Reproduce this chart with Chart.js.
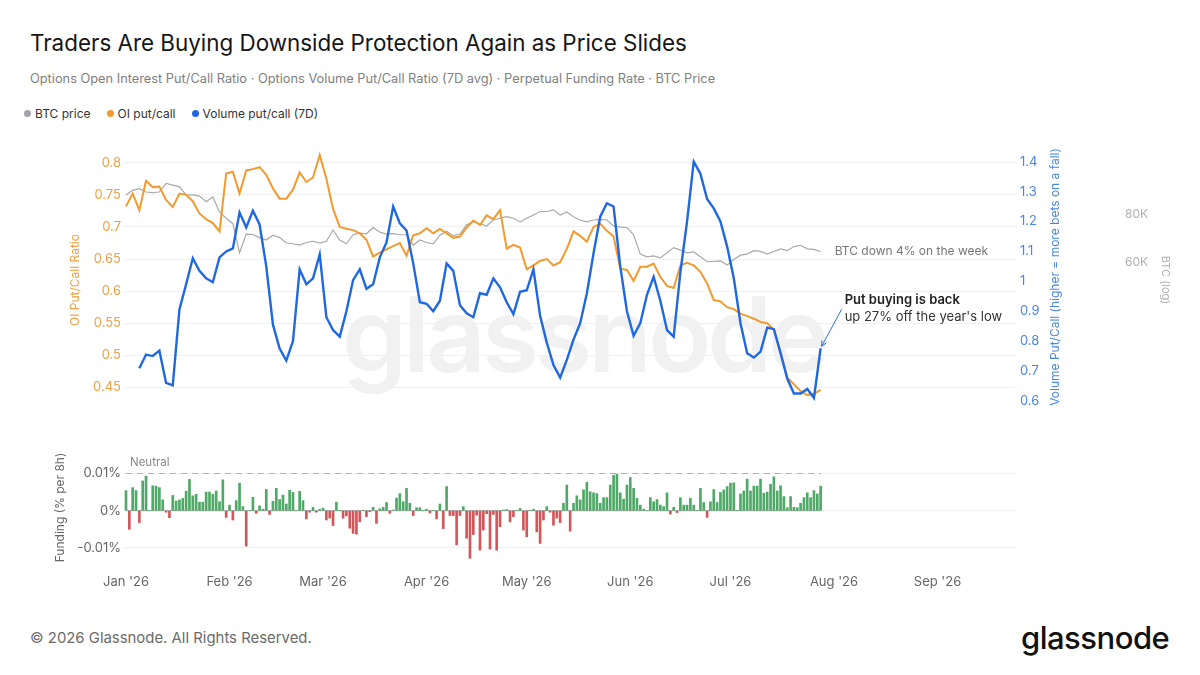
<!DOCTYPE html>
<html lang="en">
<head>
<meta charset="UTF-8">
<meta name="viewport" content="width=device-width, initial-scale=1.0">
<title>Traders Are Buying Downside Protection Again as Price Slides</title>
<script src="https://cdn.jsdelivr.net/npm/chart.js"></script>
<style>
  html, body { margin: 0; padding: 0; background: #fff; }
  body { position: relative; width: 1200px; height: 675px; overflow: hidden; font-family: Inter, "Noto Sans", sans-serif; }
  .abs { position: absolute; white-space: nowrap; }
  #title { left: 30px; top: 29px; font-size: 22.4px; color: #161616; }
  #subtitle { left: 30px; top: 71px; font-size: 12.8px; color: #808080; }
  #legend { left: 24px; top: 106px; font-size: 12px; color: #333; display: flex; gap: 16px; }
  #legend .dot { display: inline-block; width: 7px; height: 7px; border-radius: 50%; margin-right: 4px; vertical-align: 1px; }
  #watermark { left: 342px; top: 282px; font-size: 104px; line-height: 104px; font-weight: 600; color: rgba(0,0,0,0.055); letter-spacing: -4px; }
  #mainWrap { left: 0; top: 140px; width: 1200px; height: 280px; }
  #fundWrap { left: 0; top: 440px; width: 1200px; height: 160px; }
  #footer { left: 30px; top: 629px; font-size: 14.9px; color: #6b6b6b; }
  #logo { left: 1021px; top: 619px; font-size: 31px; font-weight: 500; color: #111; letter-spacing: -0.5px; }
</style>
</head>
<body>
  <div id="watermark" class="abs">glassnode</div>
  <div id="title" class="abs">Traders Are Buying Downside Protection Again as Price Slides</div>
  <div id="subtitle" class="abs">Options Open Interest Put/Call Ratio · Options Volume Put/Call Ratio (7D avg) · Perpetual Funding Rate · BTC Price</div>
  <div id="legend" class="abs">
    <div><span class="dot" style="background:#a3a3ab"></span>BTC price</div>
    <div><span class="dot" style="background:#f29a2e"></span>OI put/call</div>
    <div><span class="dot" style="background:#2068e0"></span>Volume put/call (7D)</div>
  </div>
  <div id="mainWrap" class="abs"><canvas id="mainChart"></canvas></div>
  <div id="fundWrap" class="abs"><canvas id="fundChart"></canvas></div>
  <div id="footer" class="abs">© 2026 Glassnode. All Rights Reserved.</div>
  <div id="logo" class="abs">glassnode</div>

<script>
// x positions are days since 1 Jan 2026
const monthTicks = [0, 31, 59, 90, 120, 151, 181, 212, 243];
const monthLabels = ["Jan '26", "Feb '26", "Mar '26", "Apr '26", "May '26", "Jun '26", "Jul '26", "Aug '26", "Sep '26"];

// line series sampled every second day, 1 Jan .. 28 Jul
const lineDays = Array.from({ length: 105 }, (_, i) => i * 2);

const oiPutCall = [
  0.732, 0.752, 0.726, 0.772, 0.762, 0.763, 0.742, 0.731, 0.752, 0.750,
  0.740, 0.721, 0.712, 0.706, 0.693, 0.783, 0.786, 0.752, 0.788, 0.790,
  0.793, 0.781, 0.760, 0.744, 0.744, 0.758, 0.785, 0.770, 0.777, 0.812,
  0.775, 0.728, 0.700, 0.697, 0.695, 0.690, 0.680, 0.654, 0.660, 0.665,
  0.670, 0.675, 0.655, 0.687, 0.690, 0.698, 0.690, 0.697, 0.690, 0.683,
  0.685, 0.699, 0.710, 0.703, 0.718, 0.712, 0.726, 0.666, 0.672, 0.668,
  0.634, 0.640, 0.647, 0.650, 0.640, 0.645, 0.666, 0.693, 0.686, 0.677,
  0.700, 0.705, 0.694, 0.685, 0.635, 0.633, 0.616, 0.638, 0.638, 0.643,
  0.622, 0.608, 0.605, 0.640, 0.644, 0.640, 0.630, 0.612, 0.586, 0.584,
  0.575, 0.572, 0.565, 0.561, 0.557, 0.552, 0.550, 0.540, 0.505, 0.465,
  0.455, 0.444, 0.438, 0.440, 0.446
];

const volPutCall7d = [
  null, null, 0.709, 0.755, 0.750, 0.768, 0.660, 0.652, 0.906, 0.990,
  1.077, 1.035, 1.010, 0.997, 1.080, 1.100, 1.110, 1.230, 1.180, 1.236,
  1.190, 1.050, 0.855, 0.775, 0.735, 0.800, 1.040, 0.990, 1.010, 1.090,
  0.880, 0.837, 0.815, 0.900, 1.004, 1.040, 0.975, 0.990, 1.080, 1.130,
  1.250, 1.194, 1.170, 1.060, 0.930, 0.925, 0.900, 0.935, 1.060, 1.035,
  0.920, 0.893, 0.880, 0.960, 0.955, 1.010, 0.980, 0.930, 0.890, 0.965,
  0.970, 1.040, 0.885, 0.795, 0.720, 0.678, 0.737, 0.805, 0.860, 0.960,
  1.094, 1.216, 1.261, 1.250, 1.050, 0.900, 0.818, 0.860, 0.955, 1.015,
  0.935, 0.837, 0.815, 1.030, 1.200, 1.400, 1.360, 1.275, 1.244, 1.200,
  1.116, 1.010, 0.860, 0.759, 0.745, 0.765, 0.845, 0.840, 0.760, 0.675,
  0.625, 0.625, 0.640, 0.610, 0.776
];

// BTC price in thousands of USD
const btcPriceK = [
  89.6, 92.1, 93.0, 91.2, 90.8, 91.2, 96.0, 95.0, 94.0, 89.6,
  89.6, 89.0, 86.1, 88.5, 81.0, 78.0, 75.5, 63.5, 71.0, 70.8,
  69.5, 68.5, 70.5, 69.5, 67.3, 67.0, 66.5, 67.5, 68.0, 67.3,
  68.0, 72.7, 68.5, 67.0, 70.7, 71.4, 71.1, 73.8, 71.8, 71.0,
  71.2, 70.7, 70.7, 66.4, 68.5, 67.5, 67.0, 70.5, 72.2, 70.3,
  71.0, 75.0, 76.3, 75.5, 74.5, 77.2, 78.0, 78.7, 78.0, 76.3,
  78.0, 79.5, 81.2, 81.2, 82.0, 79.5, 81.0, 78.7, 77.2, 76.3,
  77.2, 77.5, 77.2, 74.5, 74.0, 73.8, 70.7, 63.0, 62.0, 62.3,
  61.6, 63.5, 65.5, 64.5, 63.5, 63.8, 62.0, 60.2, 60.3, 60.5,
  59.0, 61.0, 62.6, 63.0, 64.3, 64.0, 63.0, 64.0, 65.0, 64.3,
  65.9, 66.4, 65.0, 64.8, 63.9
];

// daily perpetual funding rate, % per 8h
const fundingDays = Array.from({ length: 209 }, (_, i) => i);
const fundingRate = [
  0.0054, -0.0050, 0.0062, 0.0054, -0.0032, 0.0080, 0.0093, 0.0000, 0.0067, 0.0066,
  0.0062, 0.0029, -0.0004, -0.0019, 0.0041, 0.0026, 0.0029, 0.0033, 0.0052, 0.0084,
  0.0040, 0.0044, 0.0023, 0.0023, 0.0050, 0.0050, 0.0044, 0.0053, 0.0024, 0.0083,
  -0.0018, 0.0015, -0.0025, 0.0027, 0.0074, 0.0011, -0.0095, 0.0000, 0.0036, -0.0007,
  0.0013, 0.0004, 0.0057, -0.0010, 0.0025, 0.0060, 0.0030, 0.0042, 0.0018, 0.0055,
  0.0049, 0.0000, 0.0052, 0.0027, -0.0022, -0.0004, 0.0009, -0.0004, 0.0004, 0.0007,
  -0.0025, -0.0020, -0.0040, 0.0023, 0.0000, -0.0020, -0.0014, -0.0047, -0.0061, -0.0063,
  -0.0030, 0.0000, -0.0016, -0.0003, 0.0009, -0.0034, 0.0005, 0.0009, 0.0022, -0.0007,
  0.0002, 0.0034, 0.0046, 0.0024, 0.0060, 0.0020, -0.0013, 0.0008, 0.0008, 0.0000,
  0.0004, -0.0006, 0.0000, -0.0022, 0.0018, -0.0048, 0.0065, -0.0013, -0.0013, -0.0092,
  -0.0013, 0.0011, -0.0074, -0.0128, -0.0064, -0.0012, -0.0106, -0.0052, -0.0008, -0.0103,
  -0.0010, -0.0106, -0.0043, 0.0002, 0.0003, -0.0030, -0.0016, 0.0000, 0.0006, -0.0052,
  -0.0070, 0.0000, 0.0004, -0.0057, -0.0088, -0.0025, 0.0011, -0.0004, -0.0039, -0.0020,
  -0.0032, 0.0020, 0.0069, -0.0055, 0.0020, 0.0040, 0.0029, 0.0056, 0.0076, 0.0051,
  0.0048, 0.0046, 0.0020, 0.0035, 0.0035, 0.0069, 0.0095, 0.0098, 0.0048, 0.0031,
  0.0069, 0.0089, 0.0060, 0.0033, 0.0015, 0.0004, 0.0000, 0.0035, 0.0024, 0.0030,
  0.0015, 0.0011, 0.0048, -0.0009, 0.0009, -0.0005, 0.0035, 0.0015, 0.0015, 0.0033,
  0.0015, 0.0000, 0.0060, 0.0022, -0.0018, 0.0024, 0.0057, 0.0022, 0.0049, 0.0056,
  0.0065, 0.0074, 0.0075, 0.0000, 0.0045, 0.0053, 0.0085, 0.0053, 0.0066, 0.0066,
  0.0085, 0.0047, 0.0050, 0.0071, 0.0091, 0.0053, 0.0067, 0.0038, 0.0008, 0.0038,
  0.0009, 0.0008, 0.0020, 0.0035, 0.0048, 0.0035, 0.0054, 0.0045, 0.0066
];
const neutralFunding = 0.01;

const oiTicks = [0.45, 0.5, 0.55, 0.6, 0.65, 0.7, 0.75, 0.8];
const volTicks = [0.6, 0.7, 0.8, 0.9, 1, 1.1, 1.2, 1.3, 1.4];
const btcTicksK = [60, 80];
const fundingTicks = [-0.01, 0, 0.01];

// plot area runs from x=124 to x=1017 in both charts
const X_MIN = -0.6, X_MAX = 266.8;
const ORANGE = '#f29a2e', BLUE = '#2068e0', GREY = '#a9a9a9';

Chart.defaults.font.family = 'Inter, "Noto Sans", sans-serif';
Chart.defaults.animation = false;

const toPoints = (xs, ys) => xs.map((x, i) => ({ x: x, y: ys[i] }));

// fixed axis width, and no extra room reserved for edge labels
const fixWidth = w => s => { s.width = w; s.paddingTop = 0; s.paddingBottom = 0; };

// volume axis title reads bottom-to-top like the left one
const volAxisTitle = {
  id: 'volAxisTitle',
  afterDraw(chart) {
    const { ctx, chartArea } = chart;
    ctx.save();
    ctx.translate(chartArea.right + 38, (chartArea.top + chartArea.bottom) / 2 - 3);
    ctx.rotate(-Math.PI / 2);
    ctx.font = '12px Inter, "Noto Sans", sans-serif';
    ctx.fillStyle = '#4a86e6';
    ctx.textAlign = 'center';
    ctx.textBaseline = 'middle';
    ctx.fillText('Volume Put/Call (higher = more bets on a fall)', 0, 0);
    ctx.restore();
  }
};

const notes = {
  id: 'notes',
  afterDatasetsDraw(chart) {
    const { ctx, scales } = chart;
    const last = lineDays.length - 1;
    const px = scales.x.getPixelForValue(lineDays[last]);
    ctx.save();
    ctx.textBaseline = 'middle';
    ctx.font = '12px Inter, "Noto Sans", sans-serif';
    ctx.fillStyle = '#777';
    ctx.fillText('BTC down 4% on the week', px + 14, scales.yBTC.getPixelForValue(btcPriceK[last]));

    const py = scales.yVol.getPixelForValue(volPutCall7d[last]);
    const tx = px + 21, ty = py - 39, hx = px + 1, hy = py - 2;
    ctx.strokeStyle = '#2a6fdc';
    ctx.lineWidth = 1;
    ctx.beginPath();
    ctx.moveTo(tx, ty);
    ctx.lineTo(hx, hy);
    const a = Math.atan2(hy - ty, hx - tx);
    ctx.moveTo(hx, hy);
    ctx.lineTo(hx - 6 * Math.cos(a - 0.45), hy - 6 * Math.sin(a - 0.45));
    ctx.moveTo(hx, hy);
    ctx.lineTo(hx - 6 * Math.cos(a + 0.45), hy - 6 * Math.sin(a + 0.45));
    ctx.stroke();

    ctx.font = '600 13px Inter, "Noto Sans", sans-serif';
    ctx.fillStyle = '#222';
    ctx.fillText('Put buying is back', px + 24, py - 48);
    ctx.font = '13px Inter, "Noto Sans", sans-serif';
    ctx.fillStyle = '#333';
    ctx.fillText("up 27% off the year's low", px + 24, py - 31);
    ctx.restore();
  }
};

new Chart(document.getElementById('mainChart'), {
  type: 'line',
  data: {
    datasets: [
      { label: 'Volume put/call (7D)', data: toPoints(lineDays, volPutCall7d), yAxisID: 'yVol',
        borderColor: BLUE, borderWidth: 2.4, pointRadius: 0, tension: 0, order: 1 },
      { label: 'OI put/call', data: toPoints(lineDays, oiPutCall), yAxisID: 'yOI',
        borderColor: ORANGE, borderWidth: 2, pointRadius: 0, tension: 0, order: 2 },
      { label: 'BTC price', data: toPoints(lineDays, btcPriceK), yAxisID: 'yBTC',
        borderColor: GREY, borderWidth: 1.2, pointRadius: 0, tension: 0, order: 3 }
    ]
  },
  options: {
    responsive: true,
    maintainAspectRatio: false,
    layout: { padding: { top: 10, bottom: 10, left: 0, right: 23 } },
    plugins: { legend: { display: false }, tooltip: { enabled: false } },
    scales: {
      x: { type: 'linear', min: X_MIN, max: X_MAX, display: false },
      yOI: {
        position: 'left', min: 0.4148, max: 0.8198,
        afterFit: fixWidth(124),
        afterBuildTicks: s => { s.ticks = oiTicks.map(v => ({ value: v })); },
        ticks: { color: '#f0a040', font: { size: 13 }, padding: 3, callback: v => String(+v.toFixed(2)) },
        grid: { color: '#f0f0f0', drawTicks: false },
        border: { display: false },
        title: { display: true, text: 'OI Put/Call Ratio', color: '#f0a040', font: { size: 12 }, padding: { top: 68, bottom: 0 } }
      },
      yVol: {
        position: 'right', weight: 1, min: 0.5696, max: 1.4391,
        afterFit: fixWidth(98),
        afterBuildTicks: s => { s.ticks = volTicks.map(v => ({ value: v })); },
        ticks: { color: '#4a86e6', font: { size: 13 }, padding: 3, callback: v => String(+v.toFixed(1)) },
        grid: { display: false, drawTicks: false },
        border: { display: false }
      },
      yBTC: {
        type: 'logarithmic', position: 'right', weight: 2, min: 24.9, max: 117.1,
        afterFit: fixWidth(62),
        afterBuildTicks: s => { s.ticks = btcTicksK.map(v => ({ value: v })); },
        ticks: { color: '#b0b0b0', font: { size: 12 }, padding: 10, callback: v => v + 'K' },
        grid: { display: false, drawTicks: false },
        border: { display: false },
        title: { display: true, text: 'BTC (log)', color: '#b0b0b0', font: { size: 11 }, padding: { top: 5, bottom: 0 } }
      }
    }
  },
  plugins: [volAxisTitle, notes]
});

const neutralLabel = {
  id: 'neutralLabel',
  afterDatasetsDraw(chart) {
    const { ctx, chartArea, scales } = chart;
    ctx.save();
    ctx.font = '11.5px Inter, "Noto Sans", sans-serif';
    ctx.fillStyle = '#888';
    ctx.textBaseline = 'middle';
    ctx.fillText('Neutral', chartArea.left + 6, scales.y.getPixelForValue(neutralFunding) - 11);
    ctx.restore();
  }
};

const firstDay = fundingDays[0], lastDay = fundingDays[fundingDays.length - 1];

new Chart(document.getElementById('fundChart'), {
  type: 'bar',
  data: {
    datasets: [
      { type: 'bar', label: 'Funding', data: toPoints(fundingDays, fundingRate),
        backgroundColor: fundingRate.map(v => v >= 0 ? '#4ea866' : '#d2575a'),
        barThickness: 2, order: 1 },
      { type: 'line', label: 'zero', data: [{ x: firstDay, y: 0 }, { x: lastDay, y: 0 }],
        borderColor: '#9a9a9a', borderWidth: 1, pointRadius: 0, order: 2 },
      { type: 'line', label: 'Neutral', data: [{ x: firstDay, y: neutralFunding }, { x: lastDay, y: neutralFunding }],
        borderColor: '#b0b0b0', borderWidth: 1, borderDash: [6, 5], pointRadius: 0, order: 3 }
    ]
  },
  options: {
    responsive: true,
    maintainAspectRatio: false,
    layout: { padding: { top: 15, bottom: 0, left: 0, right: 183 } },
    plugins: { legend: { display: false }, tooltip: { enabled: false } },
    scales: {
      x: {
        type: 'linear', min: X_MIN, max: X_MAX, offset: false,
        afterFit: s => { s.height = 40; s.paddingLeft = 0; s.paddingRight = 0; },
        afterBuildTicks: s => { s.ticks = monthTicks.map(v => ({ value: v })); },
        ticks: { color: '#666', font: { size: 13 }, padding: 6, autoSkip: false, maxRotation: 0,
                 callback: (v, i) => monthLabels[i] },
        grid: { display: false },
        border: { display: false }
      },
      y: {
        position: 'left', min: -0.01325, max: 0.01497,
        afterFit: fixWidth(124),
        afterBuildTicks: s => { s.ticks = fundingTicks.map(v => ({ value: v })); },
        ticks: { color: '#666', font: { size: 13 }, padding: 3, callback: v => v + '%' },
        grid: { color: '#f0f0f0', drawTicks: false },
        border: { display: false },
        title: { display: true, text: 'Funding (% per 8h)', color: '#666', font: { size: 12 }, padding: { top: 53, bottom: 0 } }
      }
    }
  },
  plugins: [neutralLabel]
});
</script>
</body>
</html>
